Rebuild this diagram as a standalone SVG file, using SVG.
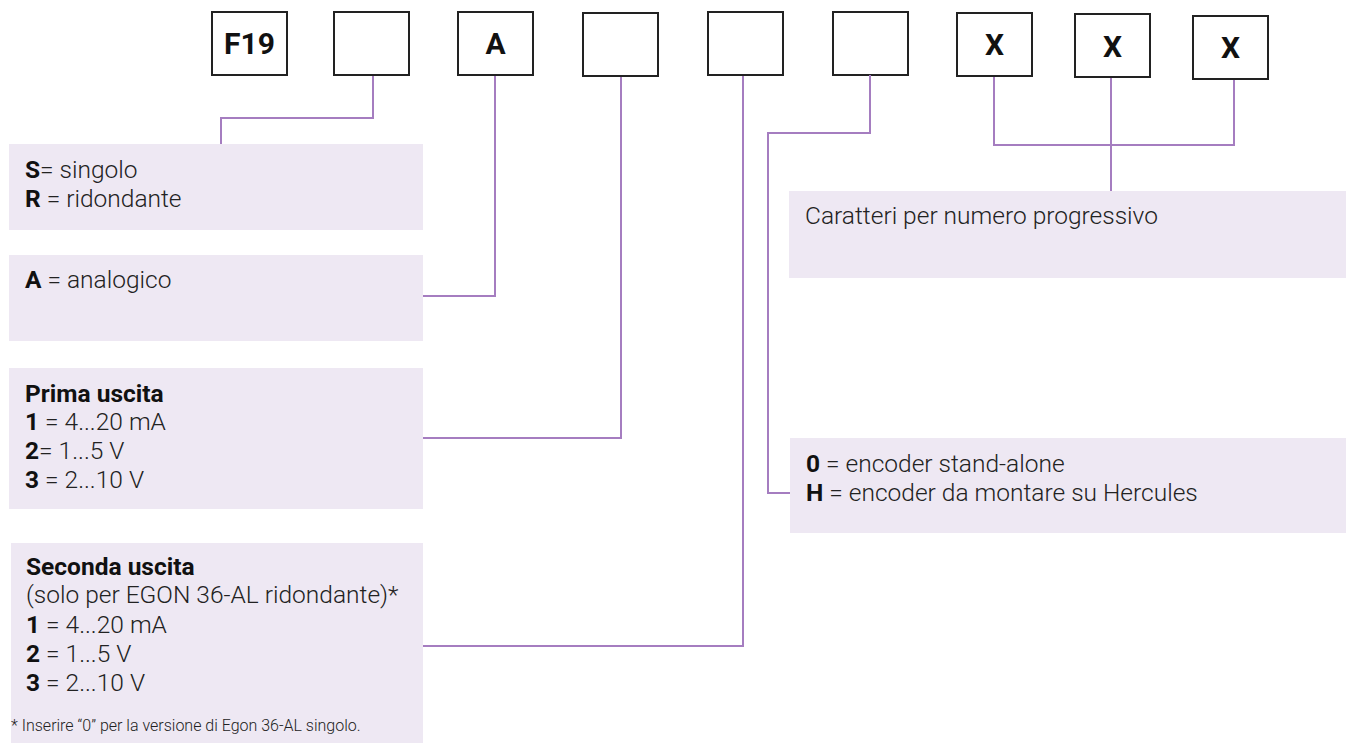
<svg xmlns="http://www.w3.org/2000/svg" width="1346" height="743" viewBox="0 0 1346 743">
<style>
.code{fill:#fff;stroke:#222;stroke-width:2}
.ct{font-family:Roboto,"Liberation Sans",sans-serif;font-weight:700;font-size:30px;fill:#111;text-anchor:middle}
.panel{fill:#EEE8F3}
.t{font-family:Roboto,"Liberation Sans",sans-serif;font-weight:300;font-size:24.5px;fill:#222}
.t tspan.b,.b{font-weight:700;fill:#111}
.fn{font-family:Roboto,"Liberation Sans",sans-serif;font-weight:300;font-size:16px;fill:#222}
.conn{fill:none;stroke:#A57DC0;stroke-width:2}
</style>
<rect width="1346" height="743" fill="#fff"/>
<g id="code-boxes">
<g id="box-f19"><rect class="code" x="212" y="12" width="75" height="63"/><text class="ct" x="249.5" y="54">F19</text></g>
<g id="box-2"><rect class="code" x="334" y="12" width="75" height="63"/></g>
<g id="box-a"><rect class="code" x="458" y="12" width="75" height="63"/><text class="ct" x="495.5" y="54">A</text></g>
<g id="box-4"><rect class="code" x="583" y="13" width="75" height="63"/></g>
<g id="box-5"><rect class="code" x="708" y="12" width="75" height="63"/></g>
<g id="box-6"><rect class="code" x="833" y="12" width="75" height="63"/></g>
<g id="box-x1"><rect class="code" x="957" y="13" width="75" height="63"/><text class="ct" x="994.5" y="55">X</text></g>
<g id="box-x2"><rect class="code" x="1075" y="14" width="75" height="63"/><text class="ct" x="1112.5" y="57">X</text></g>
<g id="box-x3"><rect class="code" x="1193" y="16" width="75" height="63"/><text class="ct" x="1230.5" y="58">X</text></g>
</g>
<g id="connectors">
<path class="conn" d="M373,76 V118 H221 V144"/>
<path class="conn" d="M495,76 V296 H423"/>
<path class="conn" d="M621,77 V438 H423"/>
<path class="conn" d="M743,76 V646 H423"/>
<path class="conn" d="M870,75 V133 H768 V493 H790"/>
<path class="conn" d="M994,77 V145 H1234 V80"/>
<path class="conn" d="M1111,78 V191"/>
</g>
<g id="panel-sr">
<rect class="panel" x="9" y="144" width="414" height="86"/>
<text class="t" x="25" y="178"><tspan class="b">S</tspan>= singolo</text>
<text class="t" x="25" y="207"><tspan class="b">R</tspan> = ridondante</text>
</g>
<g id="panel-a">
<rect class="panel" x="9" y="255" width="414" height="86"/>
<text class="t" x="25" y="288"><tspan class="b">A</tspan> = analogico</text>
</g>
<g id="panel-prima">
<rect class="panel" x="9" y="368" width="414" height="141"/>
<text class="t" x="25" y="402"><tspan class="b">Prima uscita</tspan></text>
<text class="t" x="25" y="430"><tspan class="b">1</tspan> = 4...20 mA</text>
<text class="t" x="25" y="459"><tspan class="b">2</tspan>= 1...5 V</text>
<text class="t" x="25" y="488"><tspan class="b">3</tspan> = 2...10 V</text>
</g>
<g id="panel-seconda">
<rect class="panel" x="11" y="543" width="412" height="200"/>
<text class="t" x="26" y="575"><tspan class="b">Seconda uscita</tspan></text>
<text class="t" x="26" y="603">(solo per EGON 36-AL ridondante)*</text>
<text class="t" x="26" y="633"><tspan class="b">1</tspan> = 4...20 mA</text>
<text class="t" x="26" y="662"><tspan class="b">2</tspan> = 1...5 V</text>
<text class="t" x="26" y="691"><tspan class="b">3</tspan> = 2...10 V</text>
<text class="fn" x="11" y="731">* Inserire “0” per la versione di Egon 36-AL singolo.</text>
</g>
<g id="panel-caratteri">
<rect class="panel" x="789" y="191" width="557" height="87"/>
<text class="t" x="805" y="224">Caratteri per numero progressivo</text>
</g>
<g id="panel-encoder">
<rect class="panel" x="790" y="438" width="556" height="95"/>
<text class="t" x="806" y="472"><tspan class="b">0</tspan> = encoder stand-alone</text>
<text class="t" x="806" y="501"><tspan class="b">H</tspan> = encoder da montare su Hercules</text>
</g>
</svg>
